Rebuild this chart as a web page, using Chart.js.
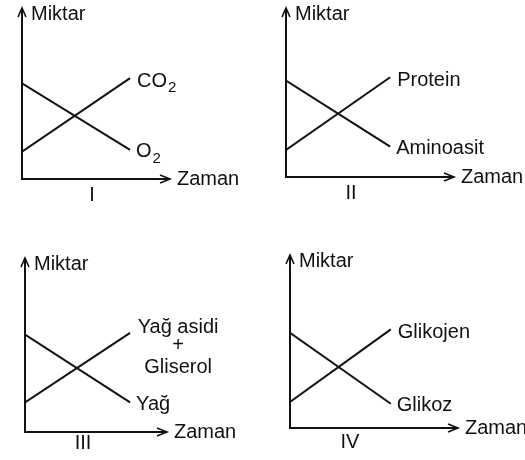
<!DOCTYPE html>
<html>
<head>
<meta charset="utf-8">
<script src="https://cdn.jsdelivr.net/npm/chart.js@4.4.1/dist/chart.umd.min.js"></script>
<style>
  html, body { margin: 0; padding: 0; background: #fff; }
  #wrap { position: relative; width: 525px; height: 460px; overflow: hidden; }
  .panel { position: absolute; }
</style>
</head>
<body>
<div id="wrap"></div>
<script>
// veriler (zaman 0-10, miktar 0-10)
const panelNames = ['I', 'II', 'III', 'IV'];
const risingLabels = [['CO', '2'], ['Protein'], ['Yağ asidi', '+', 'Gliserol'], ['Glikojen']];
const fallingLabels = [['O', '2'], ['Aminoasit'], ['Yağ'], ['Glikoz']];
const timePoints = [[0, 7.3], [0, 6.2], [0, 7.4], [0, 6.0]];
const risingValues = [[1.6, 5.9], [1.6, 5.9], [1.7, 5.7], [1.5, 5.7]];
const fallingValues = [[5.6, 1.7], [5.7, 1.8], [5.6, 1.7], [5.5, 1.4]];

// yerleşim
const boxes = [
    {left: 0, top: 0, w: 262, h: 230, pad: {left: 22, top: 8, right: 92, bottom: 51}, numX: 70, numY: 16},
    {left: 262, top: 0, w: 263, h: 230, pad: {left: 24, top: 8, right: 71, bottom: 53}, numX: 65, numY: 16},
    {left: 0, top: 230, w: 262, h: 230, pad: {left: 25, top: 28, right: 95, bottom: 28}, numX: 58, numY: 11},
    {left: 262, top: 230, w: 263, h: 230, pad: {left: 28, top: 25, right: 67, bottom: 32}, numX: 60, numY: 14},
];

const INK = '#111';
const FONT = '"Liberation Sans", Arial, sans-serif';

// alt simgeli yazı (CO2, O2)
function drawLabel(ctx, parts, x, y) {
    ctx.font = '20px ' + FONT;
    ctx.textAlign = 'left';
    ctx.fillText(parts[0], x, y);
    if (parts.length > 1) {
        const w = ctx.measureText(parts[0]).width;
        ctx.font = '15px ' + FONT;
        ctx.fillText(parts[1], x + w + 1, y + 7);
    }
}

const axesPlugin = {
    id: 'oklar',
    afterDraw(chart) {
        const ctx = chart.ctx;
        const a = chart.chartArea;
        const i = chart.options.plugins.oklar.index;
        const box = boxes[i];
        const xs = chart.scales.x, ys = chart.scales.y;
        ctx.save();
        ctx.strokeStyle = INK;
        ctx.fillStyle = INK;
        ctx.lineWidth = 2;
        // eksenler
        ctx.beginPath();
        ctx.moveTo(a.left, a.top + 1);
        ctx.lineTo(a.left, a.bottom);
        ctx.lineTo(a.right, a.bottom);
        ctx.stroke();
        ctx.lineWidth = 1.6;
        ctx.beginPath();
        ctx.moveTo(a.left - 4, a.top + 9);
        ctx.lineTo(a.left, a.top);
        ctx.lineTo(a.left + 4, a.top + 9);
        ctx.moveTo(a.right - 10, a.bottom - 4);
        ctx.lineTo(a.right, a.bottom);
        ctx.lineTo(a.right - 10, a.bottom + 4);
        ctx.stroke();

        ctx.textBaseline = 'middle';
        ctx.font = '20px ' + FONT;
        ctx.textAlign = 'left';
        ctx.fillText('Miktar', a.left + 9, a.top + 6);
        ctx.fillText('Zaman', a.right + 7, a.bottom);
        ctx.textAlign = 'center';
        ctx.fillText(panelNames[i], a.left + box.numX, a.bottom + box.numY);

        // çizgi uçlarındaki etiketler
        const endX = xs.getPixelForValue(timePoints[i][1]) + 7;
        const rEnd = ys.getPixelForValue(risingValues[i][1]);
        const fEnd = ys.getPixelForValue(fallingValues[i][1]);
        const rising = risingLabels[i];
        if (rising.length === 3) {
            ctx.textAlign = 'center';
            const cx = endX + 41;
            ctx.fillText(rising[0], cx, rEnd - 5);
            ctx.fillText(rising[1], cx, rEnd + 13);
            ctx.fillText(rising[2], cx, rEnd + 35);
        } else {
            drawLabel(ctx, rising, endX, rEnd + 3);
        }
        drawLabel(ctx, fallingLabels[i], endX - 1, fEnd + 2);
        ctx.restore();
    }
};

const wrap = document.getElementById('wrap');
boxes.forEach((box, i) => {
    const div = document.createElement('div');
    div.className = 'panel';
    div.style.left = box.left + 'px';
    div.style.top = box.top + 'px';
    div.style.width = box.w + 'px';
    div.style.height = box.h + 'px';
    const canvas = document.createElement('canvas');
    div.appendChild(canvas);
    wrap.appendChild(div);

    const line = (vals) => ({
        data: timePoints[i].map((t, k) => ({x: t, y: vals[k]})),
        borderColor: INK,
        borderWidth: 2,
        pointRadius: 0,
        fill: false,
        tension: 0,
    });

    new Chart(canvas, {
        type: 'line',
        data: {datasets: [line(risingValues[i]), line(fallingValues[i])]},
        options: {
            responsive: true,
            maintainAspectRatio: false,
            animation: false,
            layout: {padding: box.pad},
            scales: {
                x: {type: 'linear', min: 0, max: 10, display: false},
                y: {type: 'linear', min: 0, max: 10, display: false},
            },
            plugins: {
                legend: {display: false},
                tooltip: {enabled: false},
                oklar: {index: i},
            },
        },
        plugins: [axesPlugin],
    });
});
</script>
</body>
</html>
